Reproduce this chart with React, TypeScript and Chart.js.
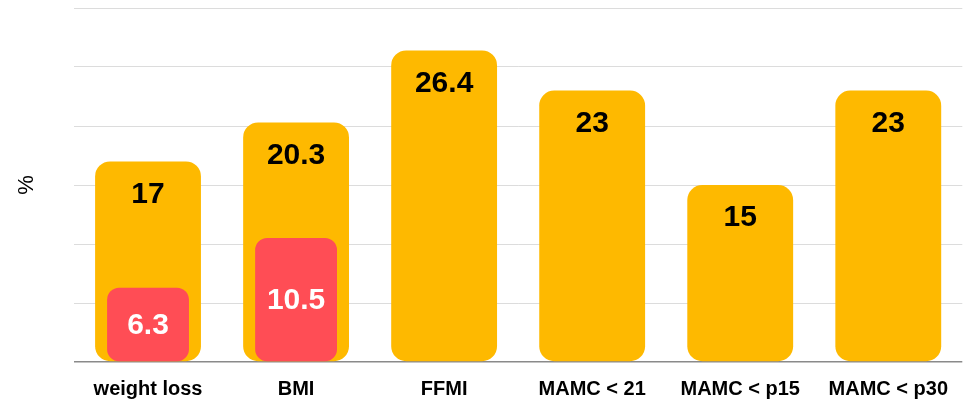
import React, { useEffect, useRef } from "react";
import { Chart, registerables } from "chart.js";

Chart.register(...registerables);

const categories = ["weight loss", "BMI", "FFMI", "MAMC < 21", "MAMC < p15", "MAMC < p30"];
const totalValues = [17, 20.3, 26.4, 23, 15, 23];
const subValues: (number | null)[] = [6.3, 10.5, null, null, null, null];
const yTitle = "%";

const FONT = "'Liberation Sans', Arial, Helvetica, sans-serif";

const labelPlugin = {
  id: "valueLabels",
  afterDatasetsDraw(chart: any) {
    const ctx = chart.ctx;
    ctx.save();
    ctx.textAlign = "center";
    ctx.textBaseline = "middle";
    ctx.font = `bold 30px ${FONT}`;
    const m1 = chart.getDatasetMeta(1);
    m1.data.forEach((bar: any, i: number) => {
      const v = totalValues[i];
      if (v == null) return;
      ctx.fillStyle = "#000000";
      ctx.fillText(String(v), bar.x, bar.y + 33);
    });
    const m0 = chart.getDatasetMeta(0);
    m0.data.forEach((bar: any, i: number) => {
      const v = subValues[i];
      if (v == null) return;
      ctx.fillStyle = "#ffffff";
      ctx.fillText(String(v), bar.x, (bar.y + bar.base) / 2 + 1);
    });
    ctx.restore();
  },
};

export default function App() {
  const ref = useRef<HTMLCanvasElement | null>(null);
  useEffect(() => {
    if (!ref.current) return;
    const chart = new Chart(ref.current, {
      type: "bar",
      data: {
        labels: categories,
        datasets: [
          {
            data: subValues as any,
            backgroundColor: "#FF4D55",
            barPercentage: 0.553,
            categoryPercentage: 1,
            borderRadius: 12,
            borderSkipped: false,
            grouped: false,
          } as any,
          {
            data: totalValues,
            backgroundColor: "#FEB900",
            barPercentage: 0.715,
            categoryPercentage: 1,
            borderRadius: 15,
            borderSkipped: false,
            grouped: false,
          } as any,
        ],
      },
      options: {
        animation: false,
        responsive: false,
        maintainAspectRatio: false,
        layout: { padding: { top: 8, right: 0, left: 0, bottom: 0 } },
        plugins: { legend: { display: false }, tooltip: { enabled: false } },
        scales: {
          x: {
            grid: { display: false, drawTicks: false },
            border: { display: false },
            ticks: {
              color: "#000",
              font: { family: FONT, size: 20, weight: "bold" },
              padding: 15,
              maxRotation: 0,
            },
            afterFit: (s: any) => {
              s.height = 41;
            },
          },
          y: {
            min: 0,
            max: 30,
            ticks: { display: false, stepSize: 5 },
            border: { display: false },
            grid: {
              color: (c: any) => (c.tick && c.tick.value === 0 ? "#8a8a8a" : "#dcdcdc"),
              lineWidth: (c: any) => (c.tick && c.tick.value === 0 ? 1.5 : 1),
              drawTicks: false,
            },
            title: {
              display: true,
              text: yTitle,
              color: "#000",
              font: { family: FONT, size: 22 },
              padding: { top: 14, bottom: 0 },
            },
            afterFit: (s: any) => {
              s.width = 74;
            },
          },
        },
      },
      plugins: [labelPlugin],
    });
    return () => chart.destroy();
  }, []);
  return (
    <div style={{ position: "absolute", left: 0, top: 0, width: 963, height: 403, background: "#fff" }}>
      <canvas ref={ref} width={963} height={403} style={{ display: "block" }} />
    </div>
  );
}
